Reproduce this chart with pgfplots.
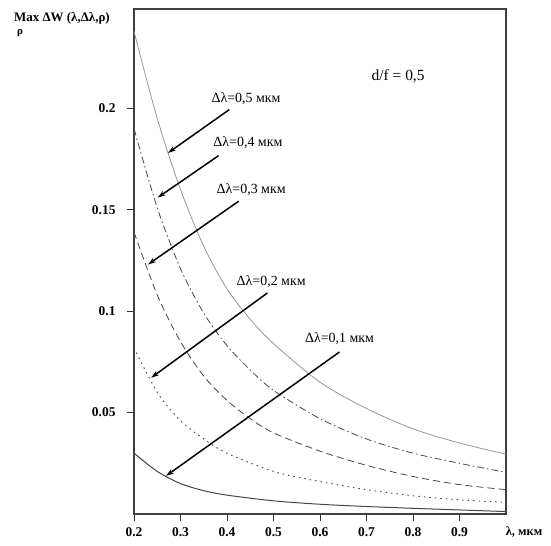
\documentclass[border=0pt]{standalone}
\usepackage{fontspec}
\setmainfont{Liberation Serif}
\usepackage{pgfplots}
\pgfplotsset{compat=1.18}
\usetikzlibrary{arrows.meta}
\definecolor{curvegray}{RGB}{150,150,150}
\definecolor{darkcurve}{RGB}{70,70,70}
\begin{document}
\begin{tikzpicture}[x=1bp,y=1bp]
\begin{axis}[
  at={(0,0)}, anchor=south west,
  scale only axis, width=372bp, height=505bp,
  xmin=0.2, xmax=1.0, ymin=0, ymax=0.249,
  xtick={0.2,0.3,0.4,0.5,0.6,0.7,0.8,0.9},
  xticklabels={0.2,0.3,0.4,0.5,0.6,0.7,0.8,0.9},
  ytick={0.05,0.1,0.15,0.2},
  yticklabels={0.05,0.1,0.15,0.2},
  tick align=outside, xtick pos=left, ytick pos=left,
  major tick length=7bp,
  tick style={black!80, line width=1pt},
  axis line style={black!75, line width=1.3pt},
  ticklabel style={font=\fontsize{13.5}{15}\selectfont\bfseries},
  yticklabel style={xshift=-8bp},
  xticklabel style={yshift=-3bp},
  clip=false,
]
% d_lambda = 0.5
\addplot[curvegray, line width=0.8pt, smooth] coordinates {
(0.2,0.238) (0.25,0.195) (0.3,0.160) (0.35,0.132) (0.4,0.111) (0.45,0.096) (0.5,0.084)
(0.6,0.065) (0.7,0.052) (0.8,0.042) (0.9,0.035) (1.0,0.0295)};
% d_lambda = 0.4
\addplot[darkcurve, line width=0.8pt, smooth, dash pattern=on 7bp off 3bp on 1.5bp off 3bp] coordinates {
(0.2,0.190) (0.25,0.151) (0.3,0.121) (0.35,0.099) (0.4,0.083) (0.45,0.071) (0.5,0.061)
(0.6,0.047) (0.7,0.037) (0.8,0.030) (0.9,0.025) (1.0,0.0205)};
% d_lambda = 0.3
\addplot[darkcurve, line width=0.8pt, smooth, dash pattern=on 7bp off 4bp] coordinates {
(0.2,0.139) (0.25,0.108) (0.3,0.085) (0.35,0.068) (0.4,0.056) (0.45,0.047) (0.5,0.040)
(0.6,0.031) (0.7,0.024) (0.8,0.0185) (0.9,0.0145) (1.0,0.012)};
% d_lambda = 0.2
\addplot[darkcurve, line width=0.9pt, smooth, dash pattern=on 1.5bp off 4bp] coordinates {
(0.2,0.082) (0.25,0.060) (0.3,0.046) (0.35,0.037) (0.4,0.030) (0.5,0.021)
(0.6,0.016) (0.7,0.012) (0.8,0.009) (0.9,0.007) (1.0,0.0057)};
% d_lambda = 0.1
\addplot[darkcurve, line width=1pt, smooth] coordinates {
(0.2,0.030) (0.25,0.021) (0.3,0.015) (0.35,0.0115) (0.4,0.0093) (0.5,0.0065)
(0.6,0.0048) (0.7,0.0037) (0.8,0.0028) (0.9,0.0020) (1.0,0.0012)};

\tikzset{ann/.style={-{Stealth[length=8bp,width=5bp]}, line width=1.5pt, black}}
\draw[ann] (axis cs:0.405,0.1994) -- (axis cs:0.273,0.178);
\draw[ann] (axis cs:0.382,0.1767) -- (axis cs:0.251,0.156);
\draw[ann] (axis cs:0.425,0.1542) -- (axis cs:0.230,0.123);
\draw[ann] (axis cs:0.487,0.109) -- (axis cs:0.237,0.0672);
\draw[ann] (axis cs:0.642,0.0799) -- (axis cs:0.269,0.0188);

\tikzset{lab/.style={font=\fontsize{14}{16}\selectfont, inner sep=0pt}}
\node[lab] at (axis cs:0.441,0.2047) {Δλ=0,5 мкм};
\node[lab] at (axis cs:0.445,0.1833) {Δλ=0,4 мкм};
\node[lab] at (axis cs:0.452,0.1600) {Δλ=0,3 мкм};
\node[lab] at (axis cs:0.495,0.1148) {Δλ=0,2 мкм};
\node[lab] at (axis cs:0.642,0.0864) {Δλ=0,1 мкм};
\node[font=\fontsize{15.5}{17}\selectfont, inner sep=0pt] at (axis cs:0.768,0.2158) {d/f = 0,5};
\end{axis}
\node[font=\fontsize{13}{15}\selectfont\bfseries, inner sep=0pt] at (-72,496) {Max ΔW (λ,Δλ,ρ)};
\node[font=\fontsize{11}{13}\selectfont\bfseries, inner sep=0pt] at (-114,481) {ρ};
\node[font=\fontsize{12.5}{14}\selectfont\bfseries, inner sep=0pt] at (390,-18) {λ, мкм};
\pgfresetboundingbox
\path[use as bounding box] (-134,-32) rectangle (417,514);
\end{tikzpicture}
\end{document}
